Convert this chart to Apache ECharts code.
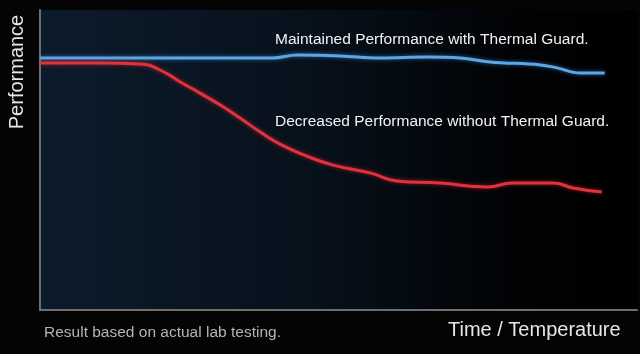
<!DOCTYPE html>
<html>
<head>
<meta charset="utf-8">
<script src="https://cdn.jsdelivr.net/npm/echarts@6/dist/echarts.min.js"></script>
<style>
  html, body { margin: 0; padding: 0; background: #040404; }
  #chart { width: 640px; height: 354px; }
</style>
</head>
<body>
<div id="chart"></div>
<script>
// time axis 0..100, performance 0..100
var guardTime = [0, 10.1, 26.8, 39.0, 43.0, 50.3, 57.0, 64.8, 70.4, 75.4, 83.8, 86.6, 90.5, 94.6];
var guardPerf = [84, 84, 84, 84, 85, 84.7, 84, 84.3, 84, 82.7, 81.7, 80.7, 79, 79];
var noGuardTime = [0, 10.1, 16.8, 20.1, 23.5, 26.8, 30.2, 33.5, 36.9, 40.2, 44.7, 49.1, 55.3, 59.8, 67.0, 74.9, 79.2, 85.9, 89.3, 94.1];
var noGuardPerf = [82.3, 82.3, 82, 80, 76, 72.3, 68.3, 64, 59.3, 55.3, 51.3, 48.3, 45.7, 43, 42.3, 41, 42.3, 42.3, 40.7, 39.3];

function pairs(xs, ys) {
  return xs.map(function (x, i) { return [x, ys[i]]; });
}

var chart = echarts.init(document.getElementById("chart"));
var option = {
  backgroundColor: "#040404",
  animation: false,
  grid: {
    left: 40,
    right: 3,
    top: 10,
    bottom: 44,
    show: true,
    borderWidth: 0,
    backgroundColor: {
      type: "linear", x: 0, y: 0, x2: 1, y2: 0,
      colorStops: [
        { offset: 0, color: "#0c1b2b" },
        { offset: 0.45, color: "#07111c" },
        { offset: 0.8, color: "#010204" },
        { offset: 1, color: "#000000" }
      ]
    }
  },
  xAxis: {
    type: "value",
    min: 0,
    max: 100,
    axisLine: { show: true, lineStyle: { color: "#6e6e6e", width: 2 } },
    axisTick: { show: false },
    axisLabel: { show: false },
    splitLine: { show: false }
  },
  yAxis: {
    type: "value",
    min: 0,
    max: 100,
    axisLine: { show: true, lineStyle: { color: "#6e6e6e", width: 2 } },
    axisTick: { show: false },
    axisLabel: { show: false },
    splitLine: { show: false }
  },
  series: [
    {
      name: "Maintained Performance with Thermal Guard.",
      type: "line",
      smooth: 0.4,
      symbol: "none",
      data: pairs(guardTime, guardPerf),
      lineStyle: {
        color: "#5aa6e6",
        width: 3,
        shadowColor: "rgba(70,150,230,0.6)",
        shadowBlur: 4
      }
    },
    {
      name: "Decreased Performance without Thermal Guard.",
      type: "line",
      smooth: 0.5,
      symbol: "none",
      data: pairs(noGuardTime, noGuardPerf),
      lineStyle: {
        color: "#e0323c",
        width: 3,
        shadowColor: "rgba(230,40,50,0.6)",
        shadowBlur: 4
      }
    }
  ],
  graphic: [
    {
      type: "text", left: 275, top: 32,
      style: { text: "Maintained Performance with Thermal Guard.", fill: "#f2f2f2",
        font: "15.5px 'Liberation Sans', Arial, sans-serif" }
    },
    {
      type: "text", left: 275, top: 114,
      style: { text: "Decreased Performance without Thermal Guard.", fill: "#f2f2f2",
        font: "15.5px 'Liberation Sans', Arial, sans-serif" }
    },
    {
      type: "text", x: 7, y: 72, rotation: Math.PI / 2,
      style: { text: "Performance", fill: "#e6e6e6", align: "center", verticalAlign: "top",
        font: "20px 'Liberation Sans', Arial, sans-serif" }
    },
    {
      type: "text", left: 448, top: 320,
      style: { text: "Time / Temperature", fill: "#e6e6e6",
        font: "20px 'Liberation Sans', Arial, sans-serif" }
    },
    {
      type: "text", left: 44, top: 325,
      style: { text: "Result based on actual lab testing.", fill: "#b4b4b4",
        font: "15.5px 'Liberation Sans', Arial, sans-serif" }
    }
  ]
};
chart.setOption(option);
</script>
</body>
</html>
